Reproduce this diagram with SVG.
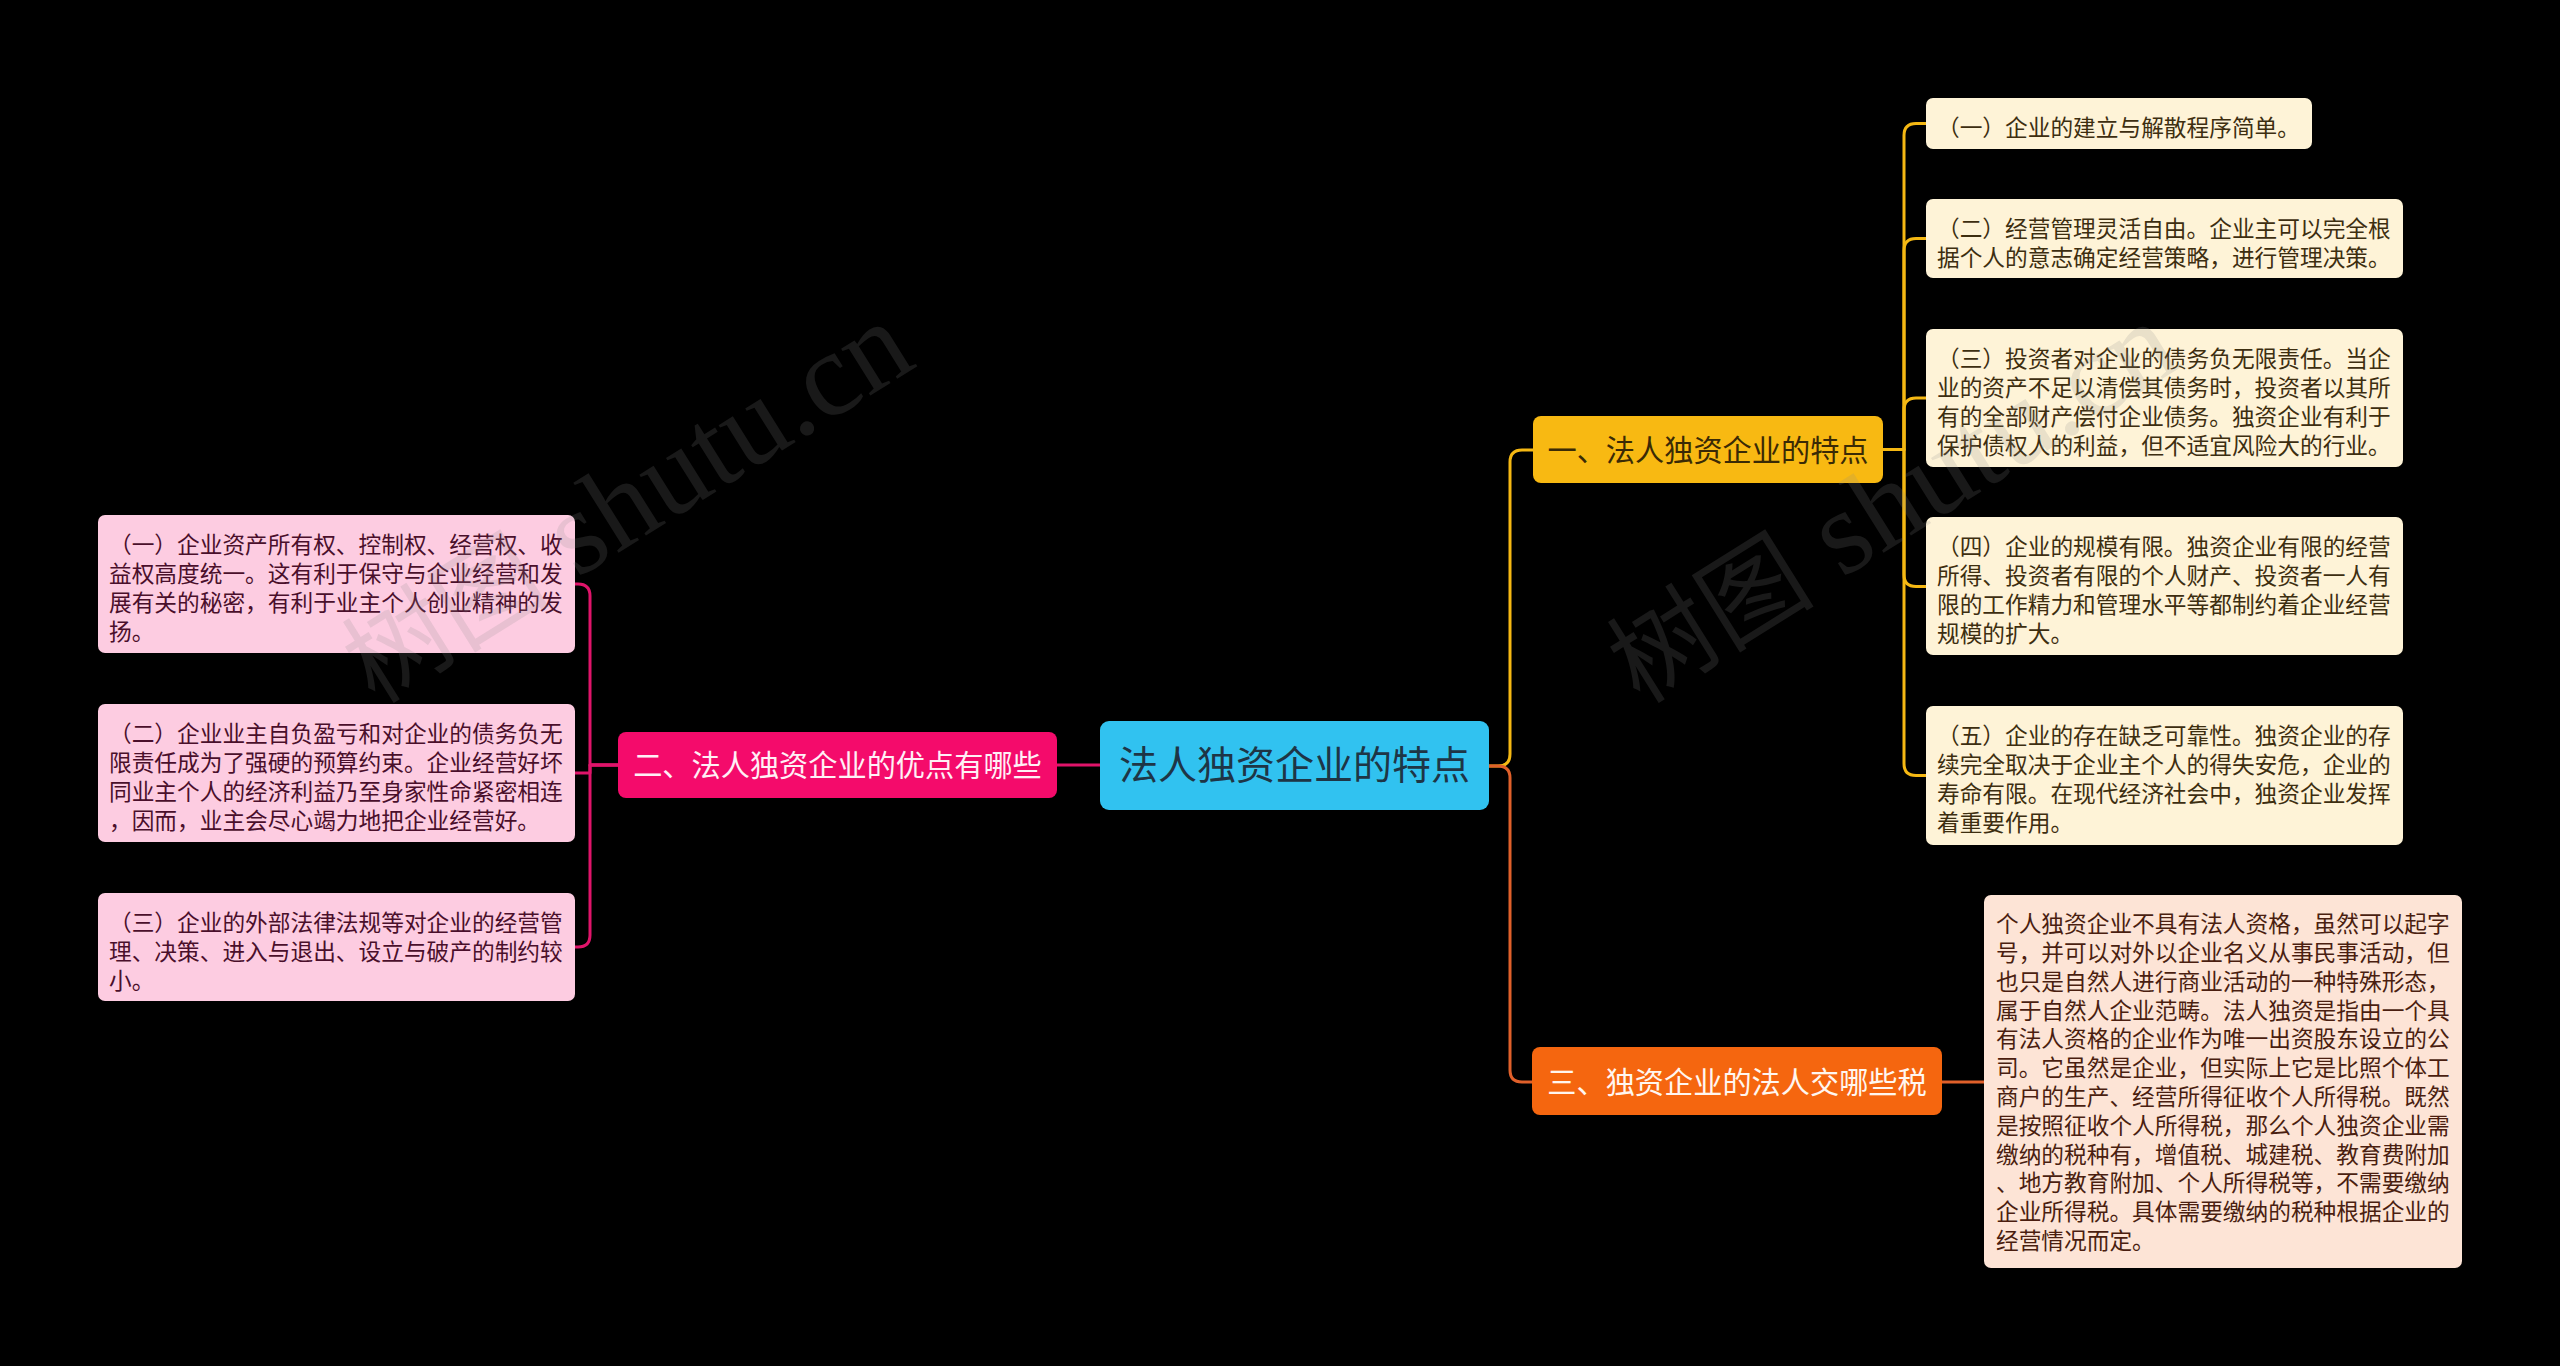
<svg xmlns="http://www.w3.org/2000/svg" width="2560" height="1366" viewBox="0 0 2560 1366">
<style>
text{font-family:"Noto Sans CJK SC","Noto Sans",sans-serif;}
.leaf{font-size:22.7px;}
.br{font-size:29.2px;text-anchor:middle;}
.yl{fill:#FEF3D7;}
.yt{fill:#3D2E10;}
.pl{fill:#FDCCE1;}
.pt{fill:#4A0F2B;}
.ol{fill:#FDE4D6;}
.ot{fill:#4A1E10;}
.cy{fill:none;stroke:#F5B813;stroke-width:3;stroke-linejoin:round;}
.co{fill:none;stroke:#E0602A;stroke-width:3;stroke-linejoin:round;}
.cp{fill:none;stroke:#E0146A;stroke-width:3;stroke-linejoin:round;}
.wm{font-family:"Liberation Serif","Noto Sans CJK SC",serif;font-size:104px;fill:#8a8a8a;fill-opacity:0.18;}
.wl{font-size:120px;}
</style>
<rect width="2560" height="1366" fill="#000"/>
<g id="connectors">
<path class="cy" d="M1489,766 H1498 Q1510,766 1510,754 V462 Q1510,450 1522,450 H1533"/>
<path class="co" d="M1489,766 H1498 Q1510,766 1510,778 V1070 Q1510,1082 1522,1082 H1532"/>
<path class="cp" d="M1100,765 H1057"/>
<path class="cy" d="M1883,449.5 H1904 V135.5 Q1904,123.5 1916,123.5 H1926"/>
<path class="cy" d="M1883,449.5 H1904 V250.5 Q1904,238.5 1916,238.5 H1926"/>
<path class="cy" d="M1883,449.5 H1904 V410 Q1904,398 1916,398 H1926"/>
<path class="cy" d="M1883,449.5 H1904 V574.5 Q1904,586.5 1916,586.5 H1926"/>
<path class="cy" d="M1883,449.5 H1904 V763.5 Q1904,775.5 1916,775.5 H1926"/>
<path class="cp" d="M618,765 H590 V596 Q590,584 578,584 H575"/>
<path class="cp" d="M618,765 H590 V773 H575"/>
<path class="cp" d="M618,765 H590 V935 Q590,947 578,947 H575"/>
<path class="co" d="M1942,1082 H1984"/>
</g>
<g id="root">
<rect x="1100" y="721" width="389" height="89" rx="9" fill="#31C2F0"/>
<text x="1294.5" y="779" font-size="39" text-anchor="middle" fill="#1E3546">法人独资企业的特点</text>
</g>
<g id="b1">
<rect x="1533" y="416" width="350" height="67" rx="8" fill="#F8B912"/>
<text class="br" x="1708" y="461" fill="#3A2A05">一、法人独资企业的特点</text>
</g>
<g id="b2">
<rect x="618" y="732" width="439" height="66" rx="8" fill="#F40B6B"/>
<text class="br" x="837.5" y="776" fill="#FFF0F6">二、法人独资企业的优点有哪些</text>
</g>
<g id="b3">
<rect x="1532" y="1047" width="410" height="68" rx="8" fill="#F5660F"/>
<text class="br" x="1737" y="1092.5" fill="#FFF6F0">三、独资企业的法人交哪些税</text>
</g>
<g id="y1">
<rect class="yl" x="1926" y="98" width="386" height="51" rx="7"/>
<text class="leaf yt" x="1937" y="136">（一）企业的建立与解散程序简单。</text>
</g>
<g id="y2">
<rect class="yl" x="1926" y="199" width="477" height="79" rx="7"/>
<text class="leaf yt"><tspan x="1937" y="236.8">（二）经营管理灵活自由。企业主可以完全根</tspan><tspan x="1937" y="265.6">据个人的意志确定经营策略，进行管理决策。</tspan></text>
</g>
<g id="y3">
<rect class="yl" x="1926" y="329" width="477" height="138" rx="7"/>
<text class="leaf yt"><tspan x="1937" y="367.4">（三）投资者对企业的债务负无限责任。当企</tspan><tspan x="1937" y="396.2">业的资产不足以清偿其债务时，投资者以其所</tspan><tspan x="1937" y="425">有的全部财产偿付企业债务。独资企业有利于</tspan><tspan x="1937" y="453.8">保护债权人的利益，但不适宜风险大的行业。</tspan></text>
</g>
<g id="y4">
<rect class="yl" x="1926" y="517" width="477" height="138" rx="7"/>
<text class="leaf yt"><tspan x="1937" y="555.4">（四）企业的规模有限。独资企业有限的经营</tspan><tspan x="1937" y="584.2">所得、投资者有限的个人财产、投资者一人有</tspan><tspan x="1937" y="613">限的工作精力和管理水平等都制约着企业经营</tspan><tspan x="1937" y="641.8">规模的扩大。</tspan></text>
</g>
<g id="y5">
<rect class="yl" x="1926" y="706" width="477" height="139" rx="7"/>
<text class="leaf yt"><tspan x="1937" y="744.4">（五）企业的存在缺乏可靠性。独资企业的存</tspan><tspan x="1937" y="773.2">续完全取决于企业主个人的得失安危，企业的</tspan><tspan x="1937" y="802">寿命有限。在现代经济社会中，独资企业发挥</tspan><tspan x="1937" y="830.8">着重要作用。</tspan></text>
</g>
<g id="o1">
<rect class="ol" x="1984" y="895" width="478" height="373" rx="7"/>
<text class="leaf ot"><tspan x="1996" y="932.2">个人独资企业不具有法人资格，虽然可以起字</tspan><tspan x="1996" y="961">号，并可以对外以企业名义从事民事活动，但</tspan><tspan x="1996" y="989.8">也只是自然人进行商业活动的一种特殊形态，</tspan><tspan x="1996" y="1018.6">属于自然人企业范畴。法人独资是指由一个具</tspan><tspan x="1996" y="1047.4">有法人资格的企业作为唯一出资股东设立的公</tspan><tspan x="1996" y="1076.2">司。它虽然是企业，但实际上它是比照个体工</tspan><tspan x="1996" y="1105">商户的生产、经营所得征收个人所得税。既然</tspan><tspan x="1996" y="1133.8">是按照征收个人所得税，那么个人独资企业需</tspan><tspan x="1996" y="1162.6">缴纳的税种有，增值税、城建税、教育费附加</tspan><tspan x="1996" y="1191.4">、地方教育附加、个人所得税等，不需要缴纳</tspan><tspan x="1996" y="1220.2">企业所得税。具体需要缴纳的税种根据企业的</tspan><tspan x="1996" y="1249">经营情况而定。</tspan></text>
</g>
<g id="p1">
<rect class="pl" x="98" y="515" width="477" height="138" rx="7"/>
<text class="leaf pt"><tspan x="109" y="553.4">（一）企业资产所有权、控制权、经营权、收</tspan><tspan x="109" y="582.2">益权高度统一。这有利于保守与企业经营和发</tspan><tspan x="109" y="611">展有关的秘密，有利于业主个人创业精神的发</tspan><tspan x="109" y="639.8">扬。</tspan></text>
</g>
<g id="p2">
<rect class="pl" x="98" y="704" width="477" height="138" rx="7"/>
<text class="leaf pt"><tspan x="109" y="742.4">（二）企业业主自负盈亏和对企业的债务负无</tspan><tspan x="109" y="771.2">限责任成为了强硬的预算约束。企业经营好坏</tspan><tspan x="109" y="800">同业主个人的经济利益乃至身家性命紧密相连</tspan><tspan x="109" y="828.8">，因而，业主会尽心竭力地把企业经营好。</tspan></text>
</g>
<g id="p3">
<rect class="pl" x="98" y="893" width="477" height="108" rx="7"/>
<text class="leaf pt"><tspan x="109" y="931">（三）企业的外部法律法规等对企业的经营管</tspan><tspan x="109" y="959.8">理、决策、进入与退出、设立与破产的制约较</tspan><tspan x="109" y="988.6">小。</tspan></text>
</g>
<g id="watermark">
<text class="wm" transform="translate(375,705) rotate(-32)">树图<tspan class="wl"> shutu.cn</tspan></text>
<text class="wm" transform="translate(1640,705) rotate(-32)">树图<tspan class="wl"> shutu.cn</tspan></text>
</g>
</svg>
